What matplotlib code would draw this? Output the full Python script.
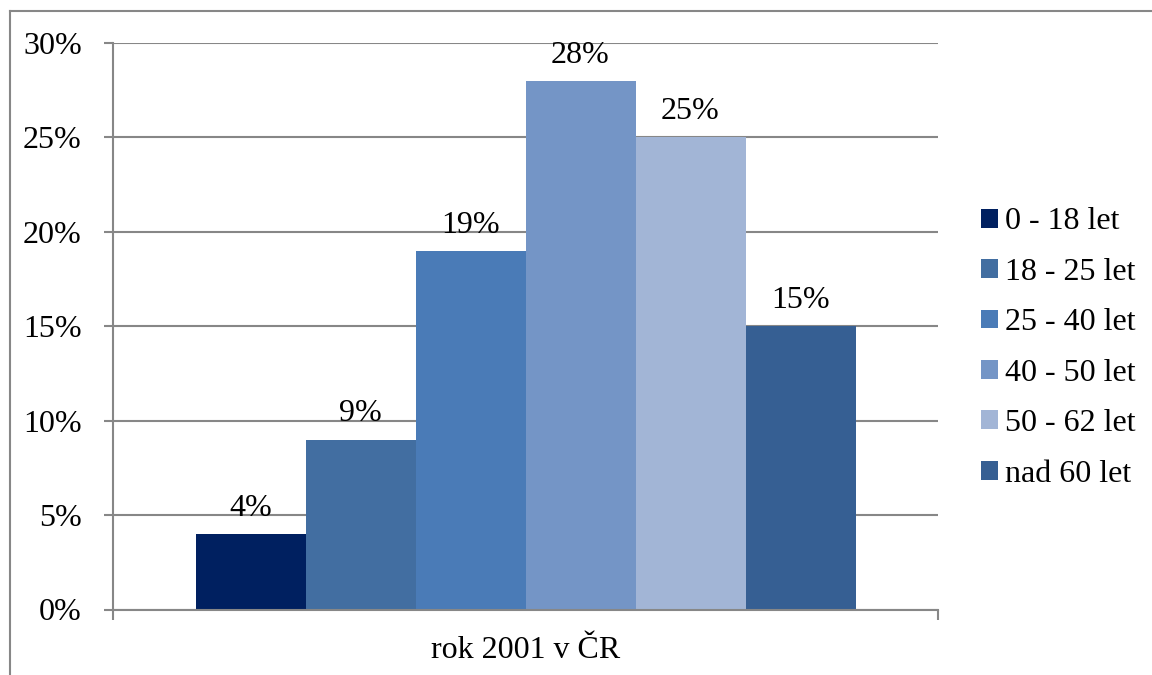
import matplotlib
matplotlib.use("Agg")
import matplotlib.pyplot as plt
from matplotlib.patches import Patch
from matplotlib.lines import Line2D
from matplotlib.ticker import FuncFormatter

plt.rcParams['font.family'] = ['Liberation Serif', 'DejaVu Serif']

# data
category = "rok 2001 v ČR"
groups = ["0 - 18 let", "18 - 25 let", "25 - 40 let", "40 - 50 let", "50 - 62 let", "nad 60 let"]
values = [4, 9, 19, 28, 25, 15]
colors = ["#002060", "#426EA1", "#4A7BB7", "#7495C6", "#A2B5D6", "#365F93"]
yticks = [0, 5, 10, 15, 20, 25, 30]

grid_col = "#878787"
fs = 23

fig = plt.figure(figsize=(11.52, 6.75), dpi=100)
ax = fig.add_axes([113 / 1152, 1 - 609.5 / 675, (938 - 113) / 1152, (609.5 - 43) / 675])

# one category, bars side by side, gap width 150 %
width = 1 / 7.5
center = 0.5
for i, (g, v, c) in enumerate(zip(groups, values, colors)):
    x = center + (i - (len(values) - 1) / 2) * width
    ax.bar(x, v, width=width, color=c, label=g, zorder=3)
    ax.annotate("{}%".format(v), (x, v), xytext=(0, 13), textcoords="offset points",
                ha="center", va="baseline", fontsize=fs, zorder=4)

ax.set_xlim(0, 1)
ax.set_ylim(0, 30)
ax.set_yticks(yticks)
ax.yaxis.set_major_formatter(FuncFormatter(lambda v, p: "{:d}%".format(int(v))))
ax.yaxis.grid(True, color=grid_col, linewidth=1.5, zorder=0)

ax.set_xticks([0, 1])
ax.set_xticklabels(["", ""])
ax.set_xticks([center], minor=True)
ax.set_xticklabels([category], minor=True, fontsize=fs)
ax.tick_params(axis="x", which="minor", length=0, pad=19)
ax.tick_params(axis="x", which="major", length=7, width=1.5, color=grid_col)
ax.tick_params(axis="y", length=6.5, width=1.5, color=grid_col, labelsize=fs, pad=16)

for s in ["top", "right"]:
    ax.spines[s].set_visible(False)
for s in ["left", "bottom"]:
    ax.spines[s].set_color(grid_col)
    ax.spines[s].set_linewidth(1.5)
ax.spines["bottom"].set_zorder(5)

handles = [Patch(facecolor=c, edgecolor="none") for c in colors]
leg = fig.legend(handles, groups, loc="center left", bbox_to_anchor=(981 / 1152, 1 - 348 / 675),
                 frameon=False, fontsize=fs, handlelength=0.53, handleheight=0.53,
                 handletextpad=0.22, labelspacing=0.67, borderaxespad=0, borderpad=0)

# outer chart border (clipped by the picture edge)
fig.add_artist(Line2D([9.5 / 1152, 1], [1 - 10.5 / 675] * 2, color=grid_col, linewidth=1.5))
fig.add_artist(Line2D([9.5 / 1152] * 2, [0, 1 - 10.5 / 675], color=grid_col, linewidth=1.5))

fig.savefig("out.png", dpi=100)
